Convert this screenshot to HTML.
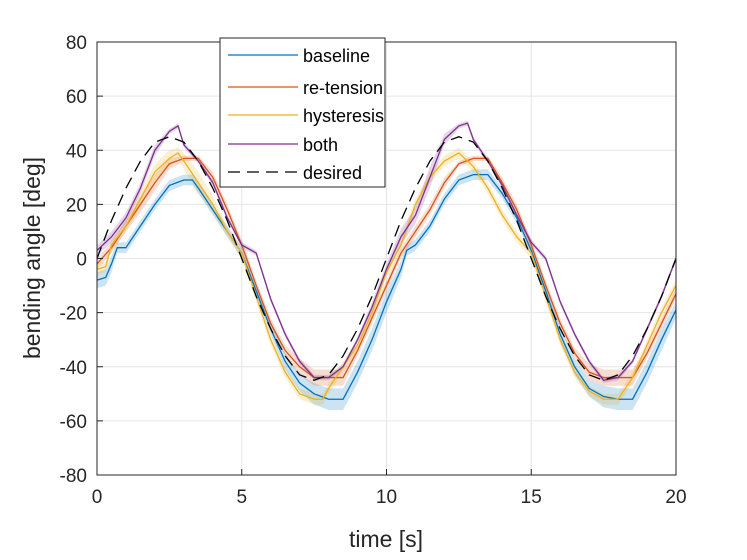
<!DOCTYPE html>
<html><head><meta charset="utf-8"><style>
body{margin:0;background:#fff;}
svg{font-family:"Liberation Sans",sans-serif;}
</style></head><body>
<svg id="chart" width="747" height="555" viewBox="0 0 747 555" xmlns="http://www.w3.org/2000/svg">
<rect width="747" height="555" fill="#fff"/>
<g id="grid"></g><g id="bands"></g><g id="lines"></g><g id="axes"></g><g id="legend"></g>
</svg>
<script>
const xTicks=[0,5,10,15,20];
const yTicks=[-80,-60,-40,-20,0,20,40,60,80];
const tDesired=[0,0.5,1,1.5,2,2.5,3,3.5,4,4.5,5,5.5,6,6.5,7,7.5,8,8.5,9,9.5,10,10.5,11,11.5,12,12.5,13,13.5,14,14.5,15,15.5,16,16.5,17,17.5,18,18.5,19,19.5,20];
const yDesired=[0,14,26,36,43,45,43,36,26,14,0,-14,-26,-36,-43,-45,-43,-36,-26,-14,0,14,26,36,43,45,43,36,26,14,0,-14,-26,-36,-43,-45,-43,-36,-26,-14,0];
const tBase=[0,0.3,0.5,0.7,1,1.5,2,2.5,3,3.3,3.5,4,4.5,5,5.5,6,6.5,7,7.5,8,8.5,9,9.5,10,10.5,10.7,11,11.5,12,12.5,13,13.5,14,14.5,15,15.5,16,16.5,17,17.5,18,18.5,19,19.5,20];
const yBase=[-8,-7,-2,4,4,12,20,27,29,29,26,18,10,2,-12,-26,-38,-46,-50,-52,-52,-42,-30,-16,-4,3,5,12,22,29,31,31,24,15,3,-12,-28,-40,-48,-51,-52,-52,-42,-30,-19];
const bBase=[3,3,3,2,2,2,2,2,2,2,2,2,2,2,2,2,3,3,4,4,4,4,4,4,3,2,2,2,2,2,2,2,2,2,2,2,3,3,3,4,4,4,4,4,3];
const tRet=[0,0.5,1,1.5,2,2.5,3,3.5,4,4.5,5,5.5,6,6.5,7,7.5,8,8.5,9,9.5,10,10.5,11,11.5,12,12.5,13,13.5,14,14.5,15,15.5,16,16.5,17,17.5,18,18.5,19,19.5,20];
const yRet=[-2,4,12,20,28,35,37,37,30,18,5,-10,-24,-34,-40,-44,-44,-44,-34,-22,-10,2,10,18,28,35,37,37,28,18,5,-10,-24,-35,-42,-44,-44,-44,-35,-24,-13];
const bRet=[2,2,2,3,3,2,1,1,2,2,2,2,2,2,3,3,3,3,2,2,2,2,2,2,2,1,1,1,2,2,2,2,2,2,3,3,3,3,2,2,2];
const tHys=[0,0.3,0.5,1,1.5,2,2.5,2.8,3,3.5,4,4.5,5,5.5,6,6.5,7,7.5,7.8,8,8.5,9,9.5,10,10.5,11,11.5,12,12.5,13,13.5,14,14.5,15,15.5,16,16.5,17,17.5,18,18.5,19,19.5,20];
const yHys=[-4,-3,5,12,22,32,37,39,36,28,20,10,2,-14,-30,-42,-50,-52,-52,-48,-40,-32,-20,-5,5,20,30,36,39,34,26,16,8,2,-14,-30,-42,-49,-52,-52,-44,-32,-20,-10];
const bHys=[2,2,2,2,3,3,3,2,3,4,3,2,2,2,2,2,2,2,2,2,2,2,2,2,2,2,2,2,2,2,2,2,2,2,2,2,2,2,2,2,2,2,2,2];
const tBoth=[0,0.5,1,1.5,2,2.5,2.8,3,3.5,4,4.5,5,5.5,6,6.5,7,7.5,8,8.5,9,9.5,10,10.5,11,11.5,12,12.5,12.8,13,13.5,14,14.5,15,15.5,16,16.5,17,17.5,18,18.5,19,19.5,20];
const yBoth=[3,8,15,26,40,47,49,42,36,28,15,5,2,-15,-28,-38,-44,-44,-40,-30,-18,-4,8,16,30,44,49,50,44,36,27,16,6,0,-16,-28,-38,-45,-44,-38,-26,-14,0];
const bBoth=[2,2,2,2,2,1,1,1,1,1,1,1,1,1,1,1,1,1,1,1,2,2,3,3,4,2,1,1,1,1,1,1,1,1,1,1,1,1,1,1,1,1,1];
const X0=97,X1=676,Y0=475,Y1=42;
const sx=v=>X0+(v-0)/(20-0)*(X1-X0);
const sy=v=>Y0-(v+80)/160*(Y0-Y1);
const NS="http://www.w3.org/2000/svg";
function mk(tag,attrs,parent,text){const e=document.createElementNS(NS,tag);for(const k in attrs)e.setAttribute(k,attrs[k]);if(text!==undefined)e.textContent=text;parent.appendChild(e);return e;}
const grid=document.getElementById('grid'),axes=document.getElementById('axes'),bands=document.getElementById('bands'),lines=document.getElementById('lines'),legend=document.getElementById('legend');
xTicks.forEach(v=>{
 const g=mk('line',{x1:sx(v),x2:sx(v),y1:Y0,y2:Y1,stroke:'#e6e6e6','stroke-width':1},grid);
 
 
 const t=mk('line',{x1:sx(v),x2:sx(v),y1:Y0,y2:Y0-6,stroke:'#262626'},axes);
 
 
 const l=mk('text',{x:sx(v),y:Y0+28,'text-anchor':'middle','font-size':19,fill:'#262626'},axes,String(v));
 
 
});
yTicks.forEach(v=>{
 const g=mk('line',{x1:X0,x2:X1,y1:sy(v),y2:sy(v),stroke:'#e6e6e6','stroke-width':1},grid);
 
 
 const t=mk('line',{x1:X0,x2:X0+6,y1:sy(v),y2:sy(v),stroke:'#262626'},axes);
 
 
 const l=mk('text',{x:X0-10,y:sy(v)+7,'text-anchor':'end','font-size':19,fill:'#262626'},axes,String(v));
 
 
});
const box=mk('rect',{x:X0,y:Y1,width:X1-X0,height:Y0-Y1,fill:'none',stroke:'#262626','stroke-width':1},axes);


const xt=mk('text',{x:386,y:547,'text-anchor':'middle','font-size':23,fill:'#262626'},axes,'time [s]');


const yt=mk('text',{x:0,y:0,'text-anchor':'middle','font-size':23,fill:'#262626',transform:'translate(40,258) rotate(-90)'},axes,'bending angle [deg]');


function band(ts,ys,bs,col,name){
 let up=ts.map((t,i)=>sx(t)+','+sy(ys[i]+bs[i]));
 let dn=ts.map((t,i)=>sx(t)+','+sy(ys[i]-bs[i])).reverse();
 const p=mk('polygon',{points:up.concat(dn).join(' '),fill:col,opacity:0.2,stroke:'none'},bands);
 
 
}
function line(ts,ys,col,name,dash){
 const a={points:ts.map((t,i)=>sx(t)+','+sy(ys[i])).join(' '),fill:'none',stroke:col,'stroke-width':1.3};
 if(dash)a['stroke-dasharray']=dash;
 const p=mk('polyline',a,lines);
 
 
}
band(tBase,yBase,bBase,'#0072bd','baseline');
band(tRet,yRet,bRet,'#d95319','re-tension');
band(tHys,yHys,bHys,'#edb120','hysteresis');
band(tBoth,yBoth,bBoth,'#7e2f8e','both');
line(tBase,yBase,'#0072bd','baseline');
line(tRet,yRet,'#d95319','re-tension');
line(tHys,yHys,'#edb120','hysteresis');
line(tBoth,yBoth,'#7e2f8e','both');
line(tDesired,yDesired,'#000','desired','12,7');
const lb=mk('rect',{x:220,y:38,width:165,height:149,fill:'#fff',stroke:'#262626'},legend);


const entries=[['baseline','#0072bd',55,null],['re-tension','#d95319',87,null],['hysteresis','#edb120',115,null],['both','#7e2f8e',144,null],['desired','#000',172,'12,7']];
entries.forEach(e=>{
 const a={x1:228,x2:298,y1:e[2],y2:e[2],stroke:e[1],'stroke-width':1.3};
 if(e[3])a['stroke-dasharray']=e[3];
 const l=mk('line',a,legend);
 
 
 const t=mk('text',{x:303,y:e[2]+7,'font-size':18,fill:'#000'},legend,e[0]);
 
 
});
</script>
</body></html>
